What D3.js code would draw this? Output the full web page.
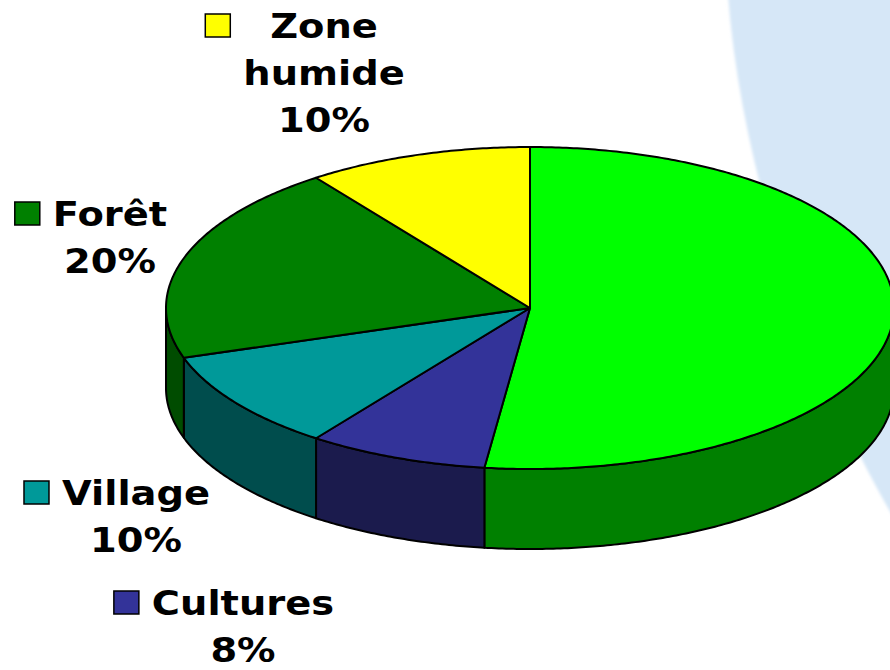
<!DOCTYPE html>
<html>
<head>
<meta charset="utf-8">
<script src="https://cdn.jsdelivr.net/npm/d3@7"></script>
<style>
  body { margin: 0; background: #fff; }
  svg { display: block; }
  .lbl { font-family: "DejaVu Sans", Verdana, sans-serif; font-weight: bold; font-size: 34px; fill: #000; }
</style>
</head>
<body>
<div id="chart"></div>
<script>
// slice data, clockwise from 12 o'clock (first slice has no visible label)
var categories = ["", "Cultures", "Village", "Forêt", "Zone humide"];
var values = [52, 8, 10, 20, 10];
var topColors = ["#00ff00", "#333399", "#009999", "#008000", "#ffff00"];
var sideColors = ["#008000", "#1b1b4d", "#004d4d", "#004c00", "#808000"];

var width = 890, height = 670;
var cx = 530, cy = 308, rx = 364, ry = 161, depth = 80;

var svg = d3.select("#chart")
  .append("svg")
  .attr("width", width)
  .attr("height", height);

// light blue background swoosh on the right
var blur = svg.append("defs").append("filter").attr("id", "soft");
blur.append("feGaussianBlur").attr("stdDeviation", 1.5);

svg.append("path")
  .attr("d", "M728,-5 C742,180 815,385 895,520 L895,-5 Z")
  .attr("fill", "#d6e7f7")
  .attr("filter", "url(#soft)");

var pie = d3.pie().sort(null).startAngle(0).endAngle(2 * Math.PI);
var arcs = pie(values);

// ellipse scales: angle -> x / y on the tilted disc
var sx = d3.scaleLinear().domain([-1, 1]).range([cx - rx, cx + rx]);
var sy = d3.scaleLinear().domain([-1, 1]).range([cy - ry, cy + ry]);

function pt(a, dy) {
  return [sx(Math.sin(a)), sy(-Math.cos(a)) + dy];
}

function samples(a0, a1, dy) {
  var n = Math.max(2, Math.ceil((a1 - a0) / 0.01));
  return d3.range(n + 1).map(function(i) {
    return pt(a0 + (a1 - a0) * i / n, dy);
  });
}

var line = d3.line().curve(d3.curveLinear);

// Render sides (only the front half is visible)
var sides = svg.append("g").attr("class", "sides");
arcs.forEach(function(d, i) {
  var a0 = Math.max(d.startAngle, Math.PI / 2);
  var a1 = Math.min(d.endAngle, 3 * Math.PI / 2);
  if (a1 <= a0) return;
  var ptsTop = samples(a0, a1, 0);
  var ptsBot = samples(a0, a1, depth).reverse();
  sides.append("path")
    .attr("d", line(ptsTop.concat(ptsBot)) + "Z")
    .attr("fill", sideColors[i])
    .attr("stroke", "#000")
    .attr("stroke-width", 2)
    .attr("stroke-linejoin", "round");
});

// Render top faces
var tops = svg.append("g").attr("class", "tops");
arcs.forEach(function(d, i) {
  var pts = [[cx, cy]].concat(samples(d.startAngle, d.endAngle, 0));
  tops.append("path")
    .attr("d", line(pts) + "Z")
    .attr("fill", topColors[i])
    .attr("stroke", "#000")
    .attr("stroke-width", 2)
    .attr("stroke-linejoin", "round");
});

// Labels: centre x and first baseline
var labelPos = {
  "Zone humide": [324, 38],
  "Forêt": [110, 226],
  "Village": [136, 505],
  "Cultures": [243, 615]
};
var stretch = 1.13, lineH = 47;

var labels = svg.append("g").attr("class", "labels");
categories.forEach(function(name, i) {
  if (!name) return;
  var p = labelPos[name];
  var lines = name.split(" ").concat([values[i] + "%"]);
  var g = labels.append("g")
    .attr("transform", "translate(" + p[0] + "," + p[1] + ") scale(" + stretch + ",1)");
  var maxW = 0;
  lines.forEach(function(t, j) {
    var txt = g.append("text")
      .attr("class", "lbl")
      .attr("x", 0)
      .attr("y", j * lineH)
      .attr("text-anchor", "middle")
      .text(t);
    maxW = Math.max(maxW, txt.node().getComputedTextLength() * stretch);
  });
  // legend key to the left of the text block
  labels.append("rect")
    .attr("x", p[0] - maxW / 2 - 13 - 25)
    .attr("y", p[1] - 24)
    .attr("width", 25)
    .attr("height", 23)
    .attr("fill", topColors[i])
    .attr("stroke", "#000")
    .attr("stroke-width", 1.5);
});
</script>
</body>
</html>
